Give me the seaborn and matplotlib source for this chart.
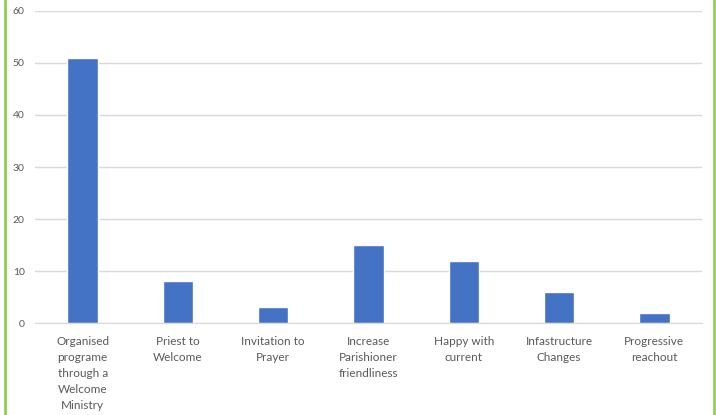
import matplotlib
matplotlib.use('Agg')
import matplotlib.pyplot as plt
import seaborn as sns
from matplotlib.lines import Line2D

# dados do gráfico
categorias = ['Organised\nprograme\nthrough a\nWelcome\nMinistry', 'Priest to\nWelcome',
              'Invitation to\nPrayer', 'Increase\nParishioner\nfriendliness',
              'Happy with\ncurrent', 'Infastructure\nChanges', 'Progressive\nreachout']
valores = [51, 8, 3, 15, 12, 6, 2]
y_ticks = [0, 10, 20, 30, 40, 50, 60]

sns.set_style('white')
plt.rcParams['font.family'] = ['Lato', 'DejaVu Sans']

fig = plt.figure(figsize=(7.16, 4.15), dpi=100)
ax = fig.add_axes([35 / 716, 1 - 323 / 415, 667 / 716, 312 / 415])

sns.barplot(x=categorias, y=valores, color='#4472C4', width=0.32, saturation=1, ax=ax)

ax.set_ylim(0, 60)
ax.set_yticks(y_ticks)
ax.yaxis.grid(True, color='#D9D9D9', linewidth=1)
ax.set_axisbelow(True)
for s in ['top', 'right', 'left']:
    ax.spines[s].set_visible(False)
ax.spines['bottom'].set_color('#D9D9D9')
ax.tick_params(axis='y', length=0, labelsize=7.5, labelcolor='#595959', pad=7.5)
ax.tick_params(axis='x', length=0, labelsize=8.5, labelcolor='#595959', pad=9.5)
for lbl in ax.get_xticklabels():
    lbl.set_linespacing(1.55)

# bordas verdes
fig.add_artist(Line2D([5 / 716, 5 / 716], [0, 1], color='#92D050', linewidth=2))
fig.add_artist(Line2D([714 / 716, 714 / 716], [0, 1], color='#92D050', linewidth=2))

fig.savefig('out.png', dpi=100)
